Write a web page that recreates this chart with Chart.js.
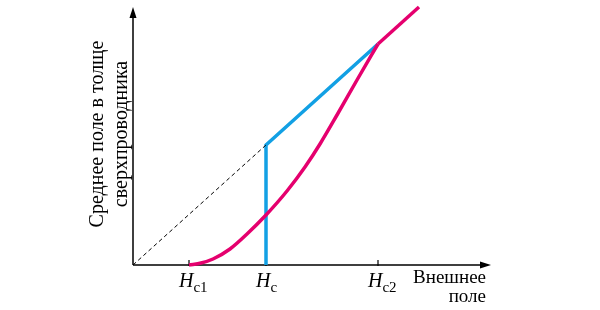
<!DOCTYPE html>
<html>
<head>
<meta charset="utf-8">
<script src="https://cdn.jsdelivr.net/npm/chart.js@4/dist/chart.umd.min.js"></script>
<style>
  body { margin: 0; background: #fff; }
  #chart { display: block; }
</style>
</head>
<body>
<canvas id="chart" width="600" height="310"></canvas>
<script>
// field values, in arbitrary units (origin = 0)
const tickValues = [56, 133, 245];
const tickSubs = ['c1', 'c', 'c2'];
const xLabel = ['Внешнее', 'поле'];
const yLabel = ['Среднее поле в толще', 'сверхпроводника'];

const dashX = [0, 133];
const dashY = [0, 120];

const blueX = [133, 133, 245];
const blueY = [0, 120, 221];

const curveX = [56, 68, 80, 97, 114, 133, 154, 172, 187, 204, 224, 245];
const curveY = [0, 2, 6, 16, 31, 50, 74, 98, 121, 150, 185, 221];

const tailX = [245, 286];
const tailY = [221, 258];

const xMax = 359;
const yMax = 260;

const MAGENTA = '#e5006e';
const BLUE = '#12a0e4';

const toPts = (xs, ys) => xs.map((x, i) => ({ x: x, y: ys[i] }));

const axesPlugin = {
    id: 'axes',
    beforeDatasetsDraw(chart) {
        const ctx = chart.ctx;
        const xs = chart.scales.x, ys = chart.scales.y;
        const ox = xs.getPixelForValue(0), oy = ys.getPixelForValue(0);
        const xEnd = xs.getPixelForValue(xMax - 1);
        const yEnd = ys.getPixelForValue(258);
        ctx.save();
        ctx.strokeStyle = '#000';
        ctx.fillStyle = '#000';
        ctx.lineWidth = 1.5;
        ctx.beginPath();
        ctx.moveTo(ox, oy);
        ctx.lineTo(xEnd - 8, oy);
        ctx.moveTo(ox, oy);
        ctx.lineTo(ox, yEnd + 8);
        ctx.stroke();
        // arrow heads
        ctx.beginPath();
        ctx.moveTo(xEnd, oy);
        ctx.lineTo(xEnd - 11, oy - 3.5);
        ctx.lineTo(xEnd - 11, oy + 3.5);
        ctx.closePath();
        ctx.fill();
        ctx.beginPath();
        ctx.moveTo(ox, yEnd);
        ctx.lineTo(ox - 3.5, yEnd + 11);
        ctx.lineTo(ox + 3.5, yEnd + 11);
        ctx.closePath();
        ctx.fill();

        // tick marks and labels
        ctx.lineWidth = 1.2;
        tickValues.forEach((v, i) => {
            const px = xs.getPixelForValue(v);
            ctx.beginPath();
            ctx.moveTo(px, oy - 5);
            ctx.lineTo(px, oy + 1);
            ctx.stroke();
            ctx.textAlign = 'left';
            ctx.textBaseline = 'alphabetic';
            ctx.font = 'italic 20px "Liberation Serif"';
            const hx = px - 10;
            ctx.fillText('H', hx, oy + 22);
            const hw = ctx.measureText('H').width;
            ctx.font = '15px "Liberation Serif"';
            ctx.fillText(tickSubs[i], hx + hw, oy + 27);
        });

        // x axis title
        ctx.font = '19px "Liberation Serif"';
        ctx.textAlign = 'right';
        ctx.fillText(xLabel[0], 486, 283);
        ctx.fillText(xLabel[1], 486, 302);

        // y axis title
        ctx.save();
        ctx.translate(0, 134);
        ctx.rotate(-Math.PI / 2);
        ctx.textAlign = 'center';
        ctx.font = '20px "Liberation Serif"';
        ctx.fillText(yLabel[0], 0, 103);
        ctx.fillText(yLabel[1], 0, 127);
        ctx.restore();
        ctx.restore();
    }
};

new Chart(document.getElementById('chart'), {
    type: 'scatter',
    data: {
        datasets: [
            {
                data: toPts(dashX, dashY),
                showLine: true,
                borderColor: '#000',
                borderWidth: 1,
                borderDash: [4, 3],
                pointRadius: 0
            },
            {
                data: toPts(curveX, curveY),
                showLine: true,
                borderColor: MAGENTA,
                borderWidth: 3.5,
                cubicInterpolationMode: 'monotone',
                pointRadius: 0
            },
            {
                data: toPts(tailX, tailY),
                showLine: true,
                borderColor: MAGENTA,
                borderWidth: 3.5,
                pointRadius: 0
            },
            {
                data: toPts(blueX, blueY),
                showLine: true,
                borderColor: BLUE,
                borderWidth: 3.5,
                borderJoinStyle: 'miter',
                pointRadius: 0
            }
        ]
    },
    options: {
        responsive: false,
        animation: false,
        clip: false,
        layout: { padding: { left: 133, right: 108, top: 5, bottom: 45 } },
        plugins: { legend: { display: false }, tooltip: { enabled: false } },
        scales: {
            x: { type: 'linear', min: 0, max: xMax, display: false },
            y: { min: 0, max: yMax, display: false }
        }
    },
    plugins: [axesPlugin]
});
</script>
</body>
</html>
